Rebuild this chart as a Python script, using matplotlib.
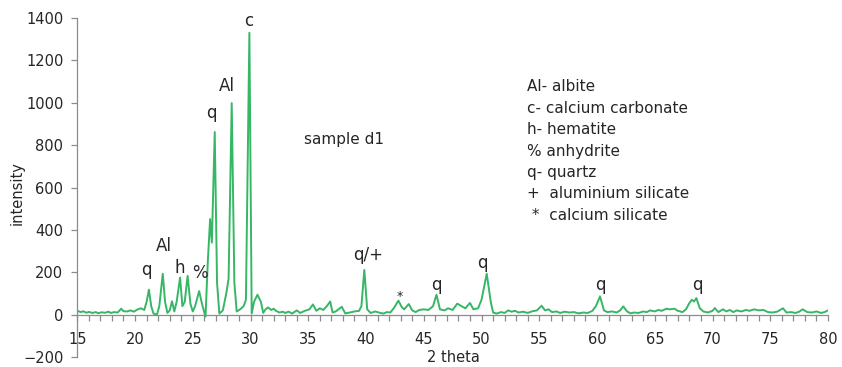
"""XRD pattern of sample d1 with phase labels."""
import matplotlib.pyplot as plt
from matplotlib.ticker import MultipleLocator

two_theta = [
    15.0, 15.3, 15.5, 15.8, 16.0, 16.3, 16.6, 16.8, 17.1, 17.4, 17.7, 17.9,
    18.2, 18.5, 18.8, 19.0, 19.3, 19.6, 19.9, 20.2, 20.5, 20.8, 21.0, 21.2,
    21.4, 21.6, 21.9, 22.1, 22.4, 22.6, 22.8, 23.0, 23.2, 23.4, 23.6, 23.9,
    24.1, 24.3, 24.55, 24.8, 25.0, 25.2, 25.55, 25.8, 26.1, 26.3, 26.5, 26.65,
    26.9, 27.1, 27.3, 27.6, 27.9, 28.1, 28.37, 28.6, 28.8, 29.1, 29.4, 29.6,
    29.9, 30.1, 30.3, 30.6, 30.9, 31.1, 31.3, 31.5, 31.8, 32.0, 32.2, 32.5,
    32.8, 33.0, 33.3, 33.6, 34.0, 34.3, 34.7, 35.1, 35.4, 35.7, 36.0, 36.3,
    36.6, 36.9, 37.1, 37.4, 37.9, 38.2, 38.6, 39.0, 39.4, 39.6, 39.85, 40.1,
    40.4, 40.8, 41.1, 41.5, 41.8, 42.1, 42.4, 42.8, 43.1, 43.3, 43.7, 44.0,
    44.3, 44.6, 45.0, 45.4, 45.8, 46.1, 46.4, 46.8, 47.1, 47.5, 47.9, 48.2,
    48.6, 49.0, 49.3, 49.7, 50.0, 50.45, 50.8, 51.0, 51.3, 51.7, 52.0, 52.3,
    52.6, 52.9, 53.2, 53.6, 54.0, 54.4, 54.8, 55.2, 55.5, 55.8, 56.1, 56.5,
    56.8, 57.2, 57.6, 58.0, 58.4, 58.8, 59.2, 59.6, 59.9, 60.26, 60.6, 60.9,
    61.3, 61.7, 62.0, 62.27, 62.6, 62.9, 63.2, 63.6, 64.0, 64.3, 64.6, 65.0,
    65.3, 65.6, 66.0, 66.3, 66.7, 67.0, 67.4, 67.7, 68.0, 68.2, 68.4, 68.6,
    68.9, 69.2, 69.6, 70.0, 70.2, 70.5, 70.9, 71.2, 71.5, 71.8, 72.1, 72.5,
    72.9, 73.2, 73.6, 74.0, 74.4, 74.8, 75.2, 75.6, 76.1, 76.4, 76.8, 77.2,
    77.5, 77.8, 78.2, 78.6, 79.0, 79.4, 79.7, 80.0,
]
intensity = [
    18, 12, 16, 9, 13, 8, 12, 7, 11, 9, 14, 8,
    12, 10, 28, 16, 15, 20, 14, 24, 30, 22, 60, 118,
    40, 5, 0, 40, 193, 60, 8, 20, 63, 15, 60, 175,
    40, 60, 183, 50, 15, 40, 111, 50, -10, 250, 451, 340,
    862, 150, 5, 20, 100, 170, 998, 150, 15, 25, 40, 70,
    1330, 5, 60, 94, 60, 8, 25, 34, 22, 28, 18, 10,
    14, 8, 14, 5, 20, 8, 18, 25, 48, 18, 30, 22,
    40, 62, 10, 16, 37, 6, 10, 15, 18, 40, 211, 25,
    8, 15, 10, 5, 12, 10, 30, 66, 35, 25, 50, 20,
    12, 22, 25, 22, 40, 94, 25, 20, 30, 22, 52, 42,
    30, 55, 25, 30, 70, 193, 60, 10, 5, 12, 8, 20,
    14, 18, 10, 14, 8, 16, 20, 42, 20, 25, 12, 15,
    8, 14, 10, 12, 6, 10, 8, 18, 40, 86, 20, 12,
    15, 10, 20, 39, 15, 6, 10, 8, 15, 12, 20, 15,
    22, 18, 28, 25, 28, 18, 12, 25, 55, 70, 62, 78,
    30, 15, 10, 18, 31, 12, 25, 15, 22, 12, 20, 15,
    22, 18, 25, 20, 22, 12, 10, 14, 30, 10, 12, 8,
    14, 25, 12, 10, 15, 8, 12, 20,
]

# phase labels over the peaks: (text, 2theta, intensity at baseline, size)
peak_labels = [
    ("q", 21.0, 188, 12), ("Al", 22.5, 301, 12), ("h", 23.9, 197, 12),
    ("%", 25.6, 174, 12), ("q", 26.6, 926, 12), ("Al", 27.95, 1057, 12),
    ("c", 29.87, 1363, 12), ("q/+", 40.15, 258, 12), ("*", 42.95, 70, 9),
    ("q", 46.1, 117, 12), ("q", 50.1, 221, 12), ("q", 60.3, 117, 12),
    ("q", 68.65, 117, 12),
]

key_lines = [
    "Al- albite",
    "c- calcium carbonate",
    "h- hematite",
    "% anhydrite",
    "q- quartz",
    "+  aluminium silicate",
    " *  calcium silicate",
]

plt.rcParams["font.family"] = "DejaVu Sans"
text_color = "#262626"
axis_color = "#8c8c8c"

fig = plt.figure(figsize=(8.42, 3.67), dpi=100)
ax = fig.add_axes([0.0918, 0.0272, 0.8916, 0.9238])

ax.plot(two_theta, intensity, color="#35b765", linewidth=1.4)

ax.set_xlim(15, 80)
ax.set_ylim(-200, 1400)
ax.xaxis.set_major_locator(MultipleLocator(5))
ax.xaxis.set_minor_locator(MultipleLocator(1))
ax.yaxis.set_major_locator(MultipleLocator(200))

ax.spines["top"].set_visible(False)
ax.spines["right"].set_visible(False)
ax.spines["bottom"].set_position(("data", 0))
for side in ("left", "bottom"):
    ax.spines[side].set_color(axis_color)
    ax.spines[side].set_linewidth(0.9)

ax.tick_params(axis="x", which="both", direction="out", length=4,
               color=axis_color, width=0.9)
ax.tick_params(axis="x", which="major", pad=8.5, labelsize=10.5,
               labelcolor=text_color)
ax.tick_params(axis="y", direction="out", length=4, color=axis_color,
               width=0.9, pad=6, labelsize=10.5, labelcolor=text_color)

for text, x, y, size in peak_labels:
    ax.text(x, y, text, ha="center", va="baseline", fontsize=size,
            color=text_color)

ax.text(38.1, 804, "sample d1", ha="center", va="baseline", fontsize=11,
        color=text_color)

for i, line in enumerate(key_lines):
    ax.text(53.93, 1054 - i * 101, line, ha="left", va="baseline",
            fontsize=11, color=text_color)

fig.text(453 / 842, 1 - 357 / 367, "2 theta", ha="center", va="center",
         fontsize=10.5, color=text_color)
fig.text(17 / 842, 1 - 193 / 367, "intensity", ha="center", va="center",
         rotation=90, fontsize=10.5, color=text_color)

fig.savefig("out.png", dpi=100)
